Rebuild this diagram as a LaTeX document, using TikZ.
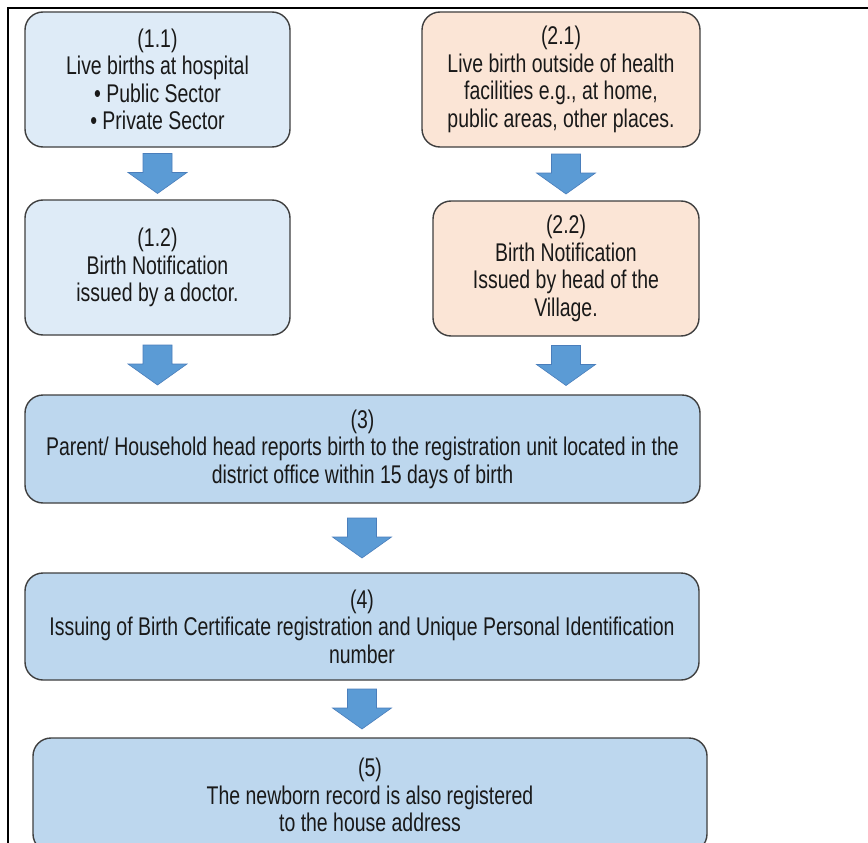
\documentclass[tikz,border=0pt]{standalone}
\usepackage{fontspec}
\setmainfont{Liberation Sans}[FakeStretch=0.76]
\usetikzlibrary{calc}

\definecolor{boxline}{HTML}{3F3F3F}
\definecolor{hospfill}{HTML}{DEEBF7}
\definecolor{homefill}{HTML}{FBE5D6}
\definecolor{stepfill}{HTML}{BDD7EE}
\definecolor{arrowfill}{HTML}{5B9BD5}
\definecolor{arrowline}{HTML}{4A7EBB}

\tikzset{
  box/.style={draw=boxline, line width=1.4pt, rounded corners=18pt,
    align=center, inner sep=0pt, text=black!90,
    font=\fontsize{25.6}{27.5}\selectfont},
  hosp/.style={box, fill=hospfill},
  home/.style={box, fill=homefill},
  regstep/.style={box, fill=stepfill},
  downarrow/.pic={
    \filldraw[fill=arrowfill, draw=arrowline, line width=0.6pt]
      (-14.5,-20) -- (14.5,-20) -- (14.5,-1) -- (29.5,-1) -- (0,20)
      -- (-29.5,-1) -- (-14.5,-1) -- cycle;
  }
}

\begin{document}
\begin{tikzpicture}[x=1pt, y=-1pt]
\clip (0,0) rectangle (868,843);
\fill[white] (0,0) rectangle (868,843);

% outer frame (top and left edges)
\draw[line width=2pt, black] (868,8) -- (8,8) -- (8,843);

% hospital branch
\node[hosp, minimum width=265pt, minimum height=135pt] (b11) at (157.5,79.5)
  {(1.1)\\Live births at hospital\\• Public Sector\\• Private Sector};
\node[hosp, minimum width=265pt, minimum height=135pt] (b12) at (157.5,267.5)
  {(1.2)\\Birth Notification\\issued by a doctor.};

% home branch
\node[home, minimum width=278pt, minimum height=135pt] (b21) at (561,79.5)
  {(2.1)\\Live birth outside of health\\facilities e.g., at home,\\public areas, other places.};
\node[home, minimum width=266pt, minimum height=135pt] (b22) at (566,268.5)
  {(2.2)\\Birth Notification\\Issued by head of the\\Village.};

% registration steps
\node[regstep, minimum width=675pt, minimum height=108pt] (b3) at (362.5,449)
  {(3)\\Parent/ Household head reports birth to the registration unit located in the\\district office within 15 days of birth};
\node[regstep, minimum width=674pt, minimum height=107pt] (b4) at (362,626.5)
  {(4)\\Issuing of Birth Certificate registration and Unique Personal Identification\\number};
\node[regstep, minimum width=674pt, minimum height=114pt] (b5) at (370,795)
  {(5)\\The newborn record is also registered\\to the house address};

% block arrows between the boxes
\coordinate (m11) at ($(b11.south)!0.5!(b12.north)$);
\coordinate (m21) at ($(b21.south)!0.5!(b22.north)$);
\coordinate (m12) at ($(b12.south)!0.5!(b3.north)$);
\coordinate (m22) at ($(b22.south)!0.5!(b3.north)$);
\coordinate (m3)  at ($(b3.south)!0.5!(b4.north)$);
\coordinate (m4)  at ($(b4.south)!0.5!(b5.north)$);

\pic at (m11) {downarrow};
\pic at (m21 -| b22) {downarrow};
\pic at (m12 -| b12) {downarrow};
\pic at (m22 -| b22) {downarrow};
\pic at (m3 -| b4) {downarrow};
\pic at (m4 -| b4) {downarrow};
\end{tikzpicture}
\end{document}
